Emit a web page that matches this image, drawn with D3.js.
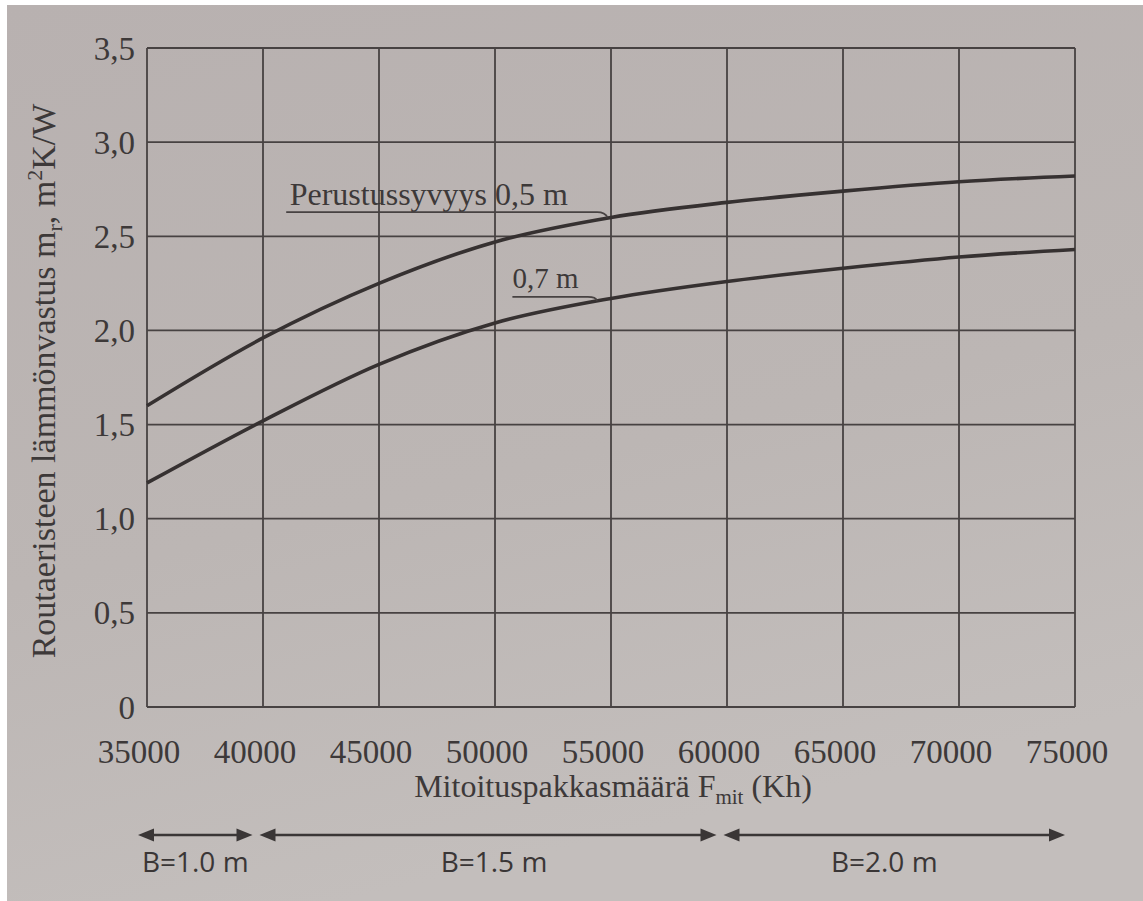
<!DOCTYPE html>
<html>
<head>
<meta charset="utf-8">
<script src="https://cdn.jsdelivr.net/npm/d3@7"></script>
<style>
  html, body { margin: 0; padding: 0; background: #ffffff; }
  svg { display: block; }
</style>
</head>
<body>
<svg id="chart" width="1143" height="901"></svg>
<script>
// ---- data ----
const xTicks = [35000, 40000, 45000, 50000, 55000, 60000, 65000, 70000, 75000];
const yTicks = [0, 0.5, 1.0, 1.5, 2.0, 2.5, 3.0, 3.5];
const yTickLabels = ["0", "0,5", "1,0", "1,5", "2,0", "2,5", "3,0", "3,5"];
const frostX = [35000, 40000, 45000, 50000, 55000, 60000, 65000, 70000, 75000];
const depth05 = [1.60, 1.96, 2.25, 2.47, 2.60, 2.68, 2.74, 2.79, 2.82];
const depth07 = [1.19, 1.52, 1.82, 2.04, 2.17, 2.26, 2.33, 2.39, 2.43];
const widthRanges = [[35000, 40000], [40000, 60000], [60000, 75000]];
const widthLabels = ["B=1.0 m", "B=1.5 m", "B=2.0 m"];

// ---- layout ----
const W = 1143, H = 901;
const pLeft = 147, pRight = 1075, pTop = 48, pBottom = 707;
const ink = "#3d3939";
const svg = d3.select("#chart");

// paper background with white photo edge
svg.append("rect").attr("width", W).attr("height", H).attr("fill", "#ffffff");
const grad = svg.append("defs").append("linearGradient").attr("id", "paper")
  .attr("x1", 0).attr("y1", 0).attr("x2", 0.3).attr("y2", 1);
grad.append("stop").attr("offset", 0).attr("stop-color", "#b8b1b0");
grad.append("stop").attr("offset", 0.6).attr("stop-color", "#bcb6b4");
grad.append("stop").attr("offset", 1).attr("stop-color", "#c3bebc");
svg.append("rect").attr("x", 7).attr("y", 5).attr("width", W - 7).attr("height", H - 5)
  .attr("fill", "url(#paper)");

const x = d3.scaleLinear().domain([35000, 75000]).range([pLeft, pRight]);
const y = d3.scaleLinear().domain([0, 3.5]).range([pBottom, pTop]);

// grid
const g = svg.append("g");
g.selectAll("line.v").data(xTicks).join("line").attr("class", "v")
  .attr("x1", d => x(d)).attr("x2", d => x(d)).attr("y1", y(0)).attr("y2", y(3.5))
  .attr("stroke", "#474242").attr("stroke-width", 1.8);
g.selectAll("line.h").data(yTicks).join("line").attr("class", "h")
  .attr("x1", x(35000)).attr("x2", x(75000)).attr("y1", d => y(d)).attr("y2", d => y(d))
  .attr("stroke", "#474242").attr("stroke-width", 1.8);

// axes labels
const serif = "'Liberation Serif', 'Times New Roman', serif";
svg.append("g").selectAll("text").data(yTicks).join("text")
  .attr("x", pLeft - 12).attr("y", d => y(d)).attr("dy", "0.35em")
  .attr("text-anchor", "end").attr("font-family", serif).attr("font-size", 33)
  .attr("fill", ink).text((d, i) => yTickLabels[i]);
svg.append("g").selectAll("text").data(xTicks).join("text")
  .attr("x", d => x(d) - 8).attr("y", pBottom + 56)
  .attr("text-anchor", "middle").attr("font-family", serif).attr("font-size", 33)
  .attr("fill", ink).text(d => d);

// x title
const xt = svg.append("text").attr("x", 613).attr("y", 797).attr("text-anchor", "middle")
  .attr("font-family", serif).attr("font-size", 32).attr("fill", ink);
xt.append("tspan").text("Mitoituspakkasmäärä F");
xt.append("tspan").attr("font-size", 21).attr("dy", 7).text("mit");
xt.append("tspan").attr("dy", -7).text(" (Kh)");

// y title
const yt = svg.append("text").attr("transform", "translate(55,381) rotate(-90)")
  .attr("text-anchor", "middle").attr("font-family", serif).attr("font-size", 34).attr("fill", ink);
yt.append("tspan").text("Routaeristeen lämmönvastus m");
yt.append("tspan").attr("font-size", 22).attr("dy", 7).text("r");
yt.append("tspan").attr("dy", -7).text(", m");
yt.append("tspan").attr("font-size", 22).attr("dy", -13).text("2");
yt.append("tspan").attr("dy", 13).text("K/W");

// curves
const line = d3.line().x(d => x(d[0])).y(d => y(d[1])).curve(d3.curveMonotoneX);
[depth05, depth07].forEach(series => {
  svg.append("path").datum(frostX.map((v, i) => [v, series[i]]))
    .attr("d", line).attr("fill", "none").attr("stroke", "#363131").attr("stroke-width", 3.6);
});

// annotations
function annot(label, size, tx, ty, ux0, ux1, uy, hx, hy) {
  svg.append("text").attr("x", x(tx)).attr("y", y(ty))
    .attr("font-family", serif).attr("font-size", size).attr("fill", ink).text(label);
  const p = d3.path();
  p.moveTo(x(ux0), y(uy));
  p.lineTo(x(ux1), y(uy));
  p.quadraticCurveTo(x(ux1) + 8, y(uy), x(hx), y(hy));
  svg.append("path").attr("d", p.toString()).attr("fill", "none")
    .attr("stroke", "#474242").attr("stroke-width", 1.8);
}
annot("Perustussyvyys 0,5 m", 32, 41150, 2.665, 41000, 54400, 2.628, 54850, 2.600);
annot("0,7 m", 29, 50750, 2.225, 50750, 54000, 2.178, 54400, 2.158);

// width ranges with arrows
const ay = 835, shift = -7;
const arrowG = svg.append("g");
function head(tipX, dir) {
  const len = 16, half = 6.5;
  arrowG.append("path")
    .attr("d", `M${tipX},${ay} L${tipX - dir * len},${ay - half} L${tipX - dir * len},${ay + half} Z`)
    .attr("fill", "#3a3636");
}
widthRanges.forEach((r, i) => {
  const x0 = x(r[0]) + shift + (i === 0 ? -2 : 3.5);
  const x1 = x(r[1]) + shift - (i === widthRanges.length - 1 ? 3 : 3.5);
  arrowG.append("line").attr("x1", x0 + 6).attr("x2", x1 - 6).attr("y1", ay).attr("y2", ay)
    .attr("stroke", "#3a3636").attr("stroke-width", 2.4);
  head(x0, -1);
  head(x1, 1);
  svg.append("text").attr("x", (x0 + x1) / 2 + (i === 2 ? -10 : (i === 1 ? 6 : 0))).attr("y", 872)
    .attr("text-anchor", "middle").attr("font-family", "'Open Sans', 'Noto Sans', sans-serif")
    .attr("font-size", 28).attr("fill", "#3a3636").text(widthLabels[i]);
});
</script>
</body>
</html>
